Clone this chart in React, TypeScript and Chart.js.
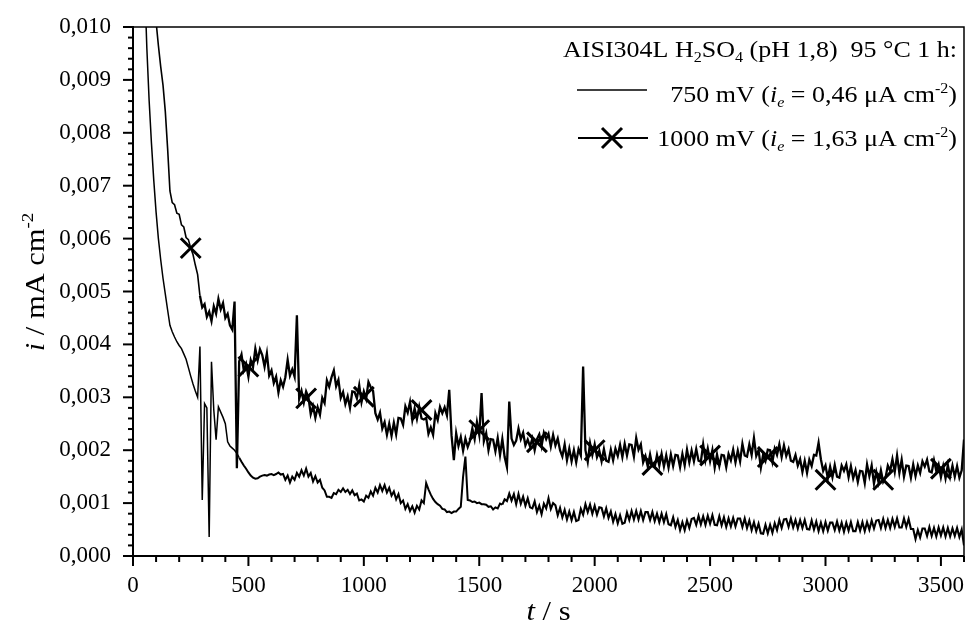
import React, { useEffect, useRef } from "react";
import { Chart, registerables } from "chart.js";

Chart.register(...registerables);

// ---- data (current density in mA cm^-2, sampled every T_STEP seconds) ----
const T_STEP = 10;
const T0_1000 = 70; // first sample time of the 1000 mV record
const i1000 = [
  0.01240, 0.01140, 0.01070, 0.01010, 0.00965, 0.00925, 0.00890, 0.00840, 0.00770,
  0.00690, 0.00668, 0.00664, 0.00648, 0.00646, 0.00626, 0.00622, 0.00602, 0.00598, 0.00582,
  0.00570, 0.00550, 0.00532, 0.00492, 0.00470, 0.00476, 0.00452, 0.00462, 0.00444, 0.00472,
  0.00458, 0.00486, 0.00466, 0.00478, 0.00450, 0.00458, 0.00436, 0.00428, 0.00481, 0.00166,
  0.00368, 0.00381, 0.00351, 0.00363, 0.00339, 0.00370, 0.00357, 0.00392, 0.00370, 0.00391,
  0.00380, 0.00358, 0.00383, 0.00341, 0.00351, 0.00327, 0.00339, 0.00309, 0.00332, 0.00320,
  0.00338, 0.00371, 0.00341, 0.00353, 0.00339, 0.00455, 0.00297, 0.00312, 0.00290, 0.00311,
  0.00300, 0.00268, 0.00283, 0.00261, 0.00281, 0.00267, 0.00299, 0.00289, 0.00332, 0.00320,
  0.00338, 0.00351, 0.00321, 0.00333, 0.00299, 0.00310, 0.00287, 0.00302, 0.00280, 0.00311,
  0.00310, 0.00298, 0.00323, 0.00291, 0.00311, 0.00297, 0.00329, 0.00319, 0.00312, 0.00270,
  0.00258, 0.00271, 0.00241, 0.00253, 0.00229, 0.00250, 0.00227, 0.00252, 0.00230, 0.00261,
  0.00260, 0.00248, 0.00283, 0.00271, 0.00291, 0.00257, 0.00279, 0.00259, 0.00282, 0.00260,
  0.00258, 0.00261, 0.00231, 0.00243, 0.00229, 0.00270, 0.00257, 0.00282, 0.00270, 0.00281,
  0.00266, 0.00314, 0.00228, 0.00181, 0.00232, 0.00208, 0.00225, 0.00199, 0.00222, 0.00206,
  0.00218, 0.00241, 0.00221, 0.00253, 0.00229, 0.00308, 0.00217, 0.00232, 0.00200, 0.00221,
  0.00220, 0.00198, 0.00223, 0.00191, 0.00221, 0.00187, 0.00168, 0.00292, 0.00222, 0.00210,
  0.00218, 0.00241, 0.00221, 0.00233, 0.00209, 0.00220, 0.00207, 0.00222, 0.00200, 0.00221,
  0.00230, 0.00208, 0.00233, 0.00221, 0.00231, 0.00207, 0.00229, 0.00209, 0.00222, 0.00200,
  0.00188, 0.00211, 0.00181, 0.00203, 0.00179, 0.00200, 0.00177, 0.00202, 0.00190, 0.00358,
  0.00200, 0.00178, 0.00213, 0.00191, 0.00211, 0.00187, 0.00199, 0.00179, 0.00202, 0.00180,
  0.00178, 0.00201, 0.00181, 0.00203, 0.00189, 0.00210, 0.00187, 0.00212, 0.00190, 0.00211,
  0.00210, 0.00188, 0.00223, 0.00201, 0.00211, 0.00177, 0.00189, 0.00169, 0.00192, 0.00170,
  0.00168, 0.00191, 0.00171, 0.00193, 0.00169, 0.00190, 0.00167, 0.00192, 0.00170, 0.00191,
  0.00190, 0.00168, 0.00193, 0.00171, 0.00201, 0.00177, 0.00199, 0.00179, 0.00202, 0.00180,
  0.00178, 0.00211, 0.00181, 0.00203, 0.00179, 0.00200, 0.00167, 0.00192, 0.00170, 0.00191,
  0.00190, 0.00168, 0.00193, 0.00181, 0.00201, 0.00177, 0.00199, 0.00179, 0.00212, 0.00190,
  0.00188, 0.00211, 0.00191, 0.00223, 0.00189, 0.00200, 0.00167, 0.00192, 0.00180, 0.00201,
  0.00200, 0.00178, 0.00203, 0.00191, 0.00211, 0.00187, 0.00209, 0.00189, 0.00202, 0.00180,
  0.00178, 0.00191, 0.00171, 0.00183, 0.00159, 0.00180, 0.00157, 0.00182, 0.00170, 0.00191,
  0.00190, 0.00214, 0.00183, 0.00161, 0.00171, 0.00147, 0.00169, 0.00149, 0.00172, 0.00150,
  0.00148, 0.00171, 0.00161, 0.00173, 0.00149, 0.00170, 0.00147, 0.00162, 0.00140, 0.00161,
  0.00160, 0.00138, 0.00173, 0.00151, 0.00171, 0.00137, 0.00159, 0.00139, 0.00162, 0.00140,
  0.00148, 0.00171, 0.00161, 0.00183, 0.00159, 0.00190, 0.00157, 0.00182, 0.00150, 0.00171,
  0.00170, 0.00148, 0.00173, 0.00151, 0.00171, 0.00157, 0.00179, 0.00169, 0.00182, 0.00160,
  0.00158, 0.00181, 0.00161, 0.00173, 0.00149, 0.00170, 0.00147, 0.00172, 0.00150, 0.00171,
  0.00150, 0.00170, 0.00148, 0.00162, 0.00220,
];

const T0_750 = 40; // first sample time of the 750 mV record
const i750 = [
  0.01250, 0.01090, 0.00960, 0.00860, 0.00780, 0.00710, 0.00650, 0.00600, 0.00560, 0.00525,
  0.00495, 0.00465, 0.00436, 0.00424, 0.00414, 0.00405, 0.00398, 0.00392, 0.00382, 0.00372,
  0.00356, 0.00340, 0.00325, 0.00312, 0.00300, 0.00396, 0.00106, 0.00288, 0.00280, 0.00036,
  0.00367, 0.00276, 0.00220, 0.00282, 0.00272, 0.00262, 0.00250, 0.00216, 0.00208, 0.00204,
  0.00200, 0.00194, 0.00186, 0.00178, 0.00171, 0.00165, 0.00158, 0.00152, 0.00148, 0.00146,
  0.00147, 0.00150, 0.00152, 0.00153, 0.00152, 0.00154, 0.00155, 0.00153, 0.00155,
  0.00158, 0.00154, 0.00155, 0.00144, 0.00152, 0.00139, 0.00150, 0.00144, 0.00157, 0.00150,
  0.00162, 0.00152, 0.00165, 0.00150, 0.00157, 0.00141, 0.00151, 0.00139, 0.00144, 0.00129,
  0.00124, 0.00112, 0.00112, 0.00110, 0.00119, 0.00117, 0.00125, 0.00121, 0.00128, 0.00121,
  0.00125, 0.00117, 0.00124, 0.00115, 0.00118, 0.00105, 0.00107, 0.00103, 0.00114, 0.00110,
  0.00122, 0.00114, 0.00129, 0.00120, 0.00134, 0.00123, 0.00134, 0.00120, 0.00129, 0.00114,
  0.00122, 0.00107, 0.00117, 0.00100, 0.00105, 0.00089, 0.00098, 0.00085, 0.00094, 0.00082,
  0.00095, 0.00088, 0.00105, 0.00100, 0.00138, 0.00126, 0.00116, 0.00108, 0.00102, 0.00098,
  0.00095, 0.00089, 0.00088, 0.00083, 0.00084, 0.00081, 0.00084, 0.00084, 0.00089, 0.00093,
  0.00150, 0.00188, 0.00106, 0.00105, 0.00102, 0.00103, 0.00100, 0.00101, 0.00098, 0.00098,
  0.00097, 0.00093, 0.00094, 0.00088, 0.00092, 0.00090, 0.00099, 0.00097, 0.00107, 0.00104,
  0.00118, 0.00105, 0.00117, 0.00098, 0.00117, 0.00099, 0.00112, 0.00095, 0.00109, 0.00092,
  0.00090, 0.00103, 0.00083, 0.00095, 0.00079, 0.00099, 0.00090, 0.00109, 0.00089, 0.00100,
  0.00096, 0.00077, 0.00091, 0.00073, 0.00087, 0.00069, 0.00084, 0.00068, 0.00083, 0.00066,
  0.00068, 0.00089, 0.00078, 0.00098, 0.00083, 0.00097, 0.00080, 0.00095, 0.00078, 0.00092,
  0.00091, 0.00075, 0.00090, 0.00072, 0.00084, 0.00065, 0.00079, 0.00062, 0.00077, 0.00061,
  0.00063, 0.00082, 0.00068, 0.00085, 0.00069, 0.00085, 0.00069, 0.00085, 0.00068, 0.00083,
  0.00083, 0.00068, 0.00083, 0.00066, 0.00080, 0.00064, 0.00080, 0.00064, 0.00079, 0.00060,
  0.00058, 0.00073, 0.00055, 0.00068, 0.00049, 0.00064, 0.00049, 0.00067, 0.00053, 0.00070,
  0.00072, 0.00059, 0.00076, 0.00060, 0.00075, 0.00059, 0.00076, 0.00061, 0.00077, 0.00059,
  0.00058, 0.00075, 0.00058, 0.00073, 0.00055, 0.00071, 0.00056, 0.00072, 0.00056, 0.00071,
  0.00071, 0.00055, 0.00071, 0.00053, 0.00067, 0.00049, 0.00064, 0.00047, 0.00061, 0.00043,
  0.00042, 0.00059, 0.00043, 0.00059, 0.00044, 0.00062, 0.00049, 0.00068, 0.00053, 0.00069,
  0.00070, 0.00055, 0.00071, 0.00054, 0.00068, 0.00052, 0.00068, 0.00053, 0.00068, 0.00051,
  0.00050, 0.00067, 0.00050, 0.00065, 0.00047, 0.00063, 0.00047, 0.00064, 0.00048, 0.00063,
  0.00063, 0.00049, 0.00065, 0.00048, 0.00063, 0.00046, 0.00063, 0.00048, 0.00064, 0.00047,
  0.00047, 0.00064, 0.00048, 0.00064, 0.00047, 0.00064, 0.00050, 0.00067, 0.00052, 0.00067,
  0.00068, 0.00053, 0.00070, 0.00053, 0.00068, 0.00053, 0.00070, 0.00055, 0.00071, 0.00054,
  0.00054, 0.00071, 0.00055, 0.00070, 0.00051, 0.00051, 0.00032, 0.00049, 0.00035, 0.00052,
  0.00052, 0.00038, 0.00055, 0.00038, 0.00053, 0.00037, 0.00054, 0.00039, 0.00054, 0.00037,
  0.00053, 0.00037, 0.00052, 0.00038, 0.00053, 0.00036, 0.00050, 0.00020,
];

// X markers on the 1000 mV curve
const markerT = [250, 500, 750, 1000, 1250, 1500, 1750, 2000, 2250, 2500, 2750, 3000, 3250, 3500];
const markerI = [0.00582, 0.00358, 0.00298, 0.00301, 0.00276, 0.00238, 0.00215, 0.00200, 0.00172, 0.00190, 0.00187, 0.00144, 0.00144, 0.00165];

// axes
const X_MIN = 0;
const X_MAX = 3600;
const xTicks = [0, 500, 1000, 1500, 2000, 2500, 3000, 3500];
const X_MINOR = 100;
const Y_MIN = 0;
const Y_MAX = 0.01;
const yTicks = [0, 0.001, 0.002, 0.003, 0.004, 0.005, 0.006, 0.007, 0.008, 0.009, 0.01];
const Y_MINOR = 0.0002;

// texts
type Run = { t: string; it?: boolean; sub?: boolean; sup?: boolean };
const legendHeader: Run[] = [
  { t: "AISI304L H" }, { t: "2", sub: true }, { t: "SO" }, { t: "4", sub: true }, { t: " (pH 1,8)  95 °C 1 h:" },
];
const legend750: Run[] = [
  { t: "750 mV (" }, { t: "i", it: true }, { t: "e", it: true, sub: true }, { t: " = 0,46 μA cm" }, { t: "-2", sup: true }, { t: ")" },
];
const legend1000: Run[] = [
  { t: "1000 mV (" }, { t: "i", it: true }, { t: "e", it: true, sub: true }, { t: " = 1,63 μA cm" }, { t: "-2", sup: true }, { t: ")" },
];
const yTitle: Run[] = [{ t: "i", it: true }, { t: " / mA cm" }, { t: "-2", sup: true }];
const xTitle: Run[] = [{ t: "t", it: true }, { t: " / s" }];

const FONT = '"Liberation Serif", "Times New Roman", serif';
const SX = 1.13; // horizontal stretch of the scanned lettering

function runFont(r: Run, size: number) {
  const s = r.sub || r.sup ? size * 0.62 : size;
  return `${r.it ? "italic " : ""}${s}px ${FONT}`;
}
function runsWidth(ctx: CanvasRenderingContext2D, runs: Run[], size: number) {
  let w = 0;
  for (const r of runs) {
    ctx.font = runFont(r, size);
    w += ctx.measureText(r.t).width * SX;
  }
  return w;
}
function drawRuns(ctx: CanvasRenderingContext2D, runs: Run[], x: number, y: number, size: number) {
  let cx = x;
  ctx.textBaseline = "alphabetic";
  ctx.textAlign = "left";
  for (const r of runs) {
    ctx.font = runFont(r, size);
    const dy = r.sub ? size * 0.2 : r.sup ? -size * 0.4 : 0;
    ctx.save();
    ctx.translate(cx, y + dy);
    ctx.scale(SX, 1);
    ctx.fillText(r.t, 0, 0);
    ctx.restore();
    cx += ctx.measureText(r.t).width * SX;
  }
}

const decorPlugin = {
  id: "decor",
  afterDraw(chart: any) {
    const { ctx, chartArea: a, scales } = chart;
    const xs = scales.x;
    const ys = scales.y;
    ctx.save();
    ctx.strokeStyle = "#000";
    ctx.fillStyle = "#000";
    ctx.lineCap = "butt";
    // frame
    ctx.lineWidth = 1.5;
    ctx.beginPath();
    ctx.moveTo(a.left, a.top);
    ctx.lineTo(a.right, a.top);
    ctx.lineTo(a.right, a.bottom);
    ctx.stroke();
    ctx.lineWidth = 2;
    ctx.beginPath();
    ctx.moveTo(a.left, a.top - 1);
    ctx.lineTo(a.left, a.bottom);
    ctx.lineTo(a.right, a.bottom);
    ctx.stroke();
    // x ticks
    ctx.lineWidth = 2;
    for (let v = X_MIN; v <= X_MAX + 1e-9; v += X_MINOR) {
      const major = xTicks.some((t) => Math.abs(t - v) < 1e-6);
      const px = xs.getPixelForValue(v);
      ctx.beginPath();
      ctx.moveTo(px, a.bottom);
      ctx.lineTo(px, a.bottom + (major ? 10 : 6));
      ctx.stroke();
    }
    // y ticks
    const nY = Math.round((Y_MAX - Y_MIN) / Y_MINOR);
    for (let k = 0; k <= nY; k++) {
      const v = Y_MIN + k * Y_MINOR;
      const major = yTicks.some((t) => Math.abs(t - v) < 1e-9);
      const py = ys.getPixelForValue(v);
      ctx.beginPath();
      ctx.moveTo(a.left, py);
      ctx.lineTo(a.left - (major ? 10 : 5), py);
      ctx.stroke();
    }
    // legend
    const LS = 23;
    const rightX = a.right - 7;
    drawRuns(ctx, legendHeader, rightX - runsWidth(ctx, legendHeader, LS), 57, LS);
    drawRuns(ctx, legend750, rightX - runsWidth(ctx, legend750, LS), 102, LS);
    drawRuns(ctx, legend1000, rightX - runsWidth(ctx, legend1000, LS), 146, LS);
    ctx.lineWidth = 1.5;
    ctx.beginPath();
    ctx.moveTo(577, 90);
    ctx.lineTo(647, 90);
    ctx.stroke();
    ctx.lineWidth = 1.8;
    ctx.beginPath();
    ctx.moveTo(578, 138);
    ctx.lineTo(648, 138);
    ctx.stroke();
    ctx.lineWidth = 3;
    const r = 10;
    ctx.beginPath();
    ctx.moveTo(612 - r, 138 - r);
    ctx.lineTo(612 + r, 138 + r);
    ctx.moveTo(612 - r, 138 + r);
    ctx.lineTo(612 + r, 138 - r);
    ctx.stroke();
    // axis titles
    const TS = 27;
    const xw = runsWidth(ctx, xTitle, TS);
    drawRuns(ctx, xTitle, (a.left + a.right) / 2 - xw / 2, 620, TS);
    const yw = runsWidth(ctx, yTitle, TS);
    ctx.save();
    ctx.translate(44, 282);
    ctx.rotate(-Math.PI / 2);
    drawRuns(ctx, yTitle, -yw / 2, 0, TS);
    ctx.restore();
    ctx.restore();
  },
};

function zeroPadding(s: any) {
  s.paddingTop = 0;
  s.paddingBottom = 0;
  s.paddingLeft = 0;
  s.paddingRight = 0;
}

export default function App() {
  const ref = useRef<HTMLCanvasElement | null>(null);
  useEffect(() => {
    document.body.style.margin = "0";
    const canvas = ref.current;
    if (!canvas) return;
    const pts1000 = i1000.map((v, k) => ({ x: T0_1000 + k * T_STEP, y: v }));
    const pts750 = i750.map((v, k) => ({ x: T0_750 + k * T_STEP, y: v }));
    const marks = markerT.map((t, k) => ({ x: t, y: markerI[k] }));
    const tickFont = { family: FONT, size: 23 };
    const chart = new Chart(canvas, {
      type: "line",
      data: {
        datasets: [
          {
            label: "750 mV",
            data: pts750,
            borderColor: "#000",
            borderWidth: 1.8,
            pointRadius: 0,
            tension: 0,
            segment: { borderWidth: (c: any) => (c.p0.parsed.x < 460 ? 1.5 : c.p0.parsed.x < 1600 ? 2 : 2.1) },
          },
          {
            label: "1000 mV",
            data: pts1000,
            borderColor: "#000",
            borderWidth: 2,
            pointRadius: 0,
            tension: 0,
            segment: { borderWidth: (c: any) => (c.p0.parsed.x < 290 ? 1.6 : 2.3) },
          },
          {
            label: "1000 mV markers",
            data: marks,
            showLine: false,
            borderColor: "#000",
            backgroundColor: "#000",
            pointStyle: "crossRot",
            pointRadius: 14,
            pointBorderWidth: 3,
          },
        ],
      },
      options: {
        responsive: false,
        animation: false,
        events: [],
        layout: { autoPadding: false, padding: { top: 27, right: 4, left: 0, bottom: 0 } },
        plugins: { legend: { display: false }, tooltip: { enabled: false }, title: { display: false } },
        scales: {
          x: {
            type: "linear",
            min: X_MIN,
            max: X_MAX,
            grid: { display: false, drawTicks: true, tickLength: 16 },
            border: { display: false },
            ticks: {
              font: tickFont,
              color: "#000",
              padding: 0,
              maxRotation: 0,
              autoSkip: false,
              callback: (v: any) => String(v),
            },
            afterBuildTicks: (s: any) => {
              s.ticks = xTicks.map((v) => ({ value: v }));
            },
            afterFit: (s: any) => {
              s.height = 71;
              zeroPadding(s);
            },
          },
          y: {
            type: "linear",
            min: Y_MIN,
            max: Y_MAX,
            grid: { display: false, drawTicks: true, tickLength: 22 },
            border: { display: false },
            ticks: {
              font: tickFont,
              color: "#000",
              padding: 0,
              autoSkip: false,
              callback: (v: any) => Number(v).toFixed(3).replace(".", ","),
            },
            afterBuildTicks: (s: any) => {
              s.ticks = yTicks.map((v) => ({ value: v }));
            },
            afterFit: (s: any) => {
              s.width = 133;
              zeroPadding(s);
            },
          },
        },
      },
      plugins: [decorPlugin],
    });
    return () => chart.destroy();
  }, []);
  return <canvas ref={ref} width={968} height={627} style={{ display: "block", width: 968, height: 627 }} />;
}
